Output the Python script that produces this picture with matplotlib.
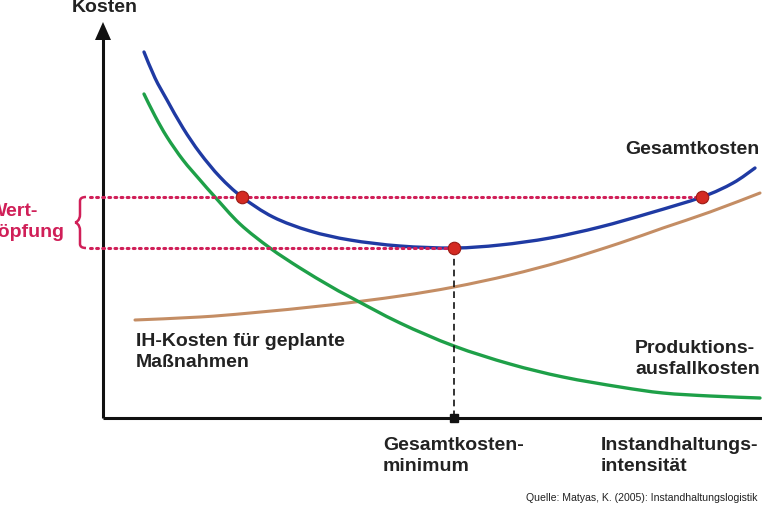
import numpy as np
import matplotlib.pyplot as plt
from matplotlib.path import Path
from matplotlib.patches import PathPatch, Polygon

plt.rcParams['font.family'] = ['Liberation Sans', 'DejaVu Sans']

"""DATA (read off the picture, image coordinates: x right, y down)"""
# Gesamtkosten (blue)
total_x = [144, 155, 167, 183, 200, 220, 242, 273, 310, 350, 400, 454, 500, 550, 600, 650, 702, 733, 755]
total_y = [52, 78, 100, 128, 153, 177, 197, 217, 231, 240, 246, 248, 245, 238, 227, 213, 197, 183, 168]

# Produktionsausfallkosten (green)
loss_x = [144, 155, 167, 183, 200, 215, 240, 270, 300, 330, 350, 400, 454, 510, 563, 620, 663, 710, 760]
loss_y = [94, 116, 137, 160, 180, 197, 224, 248, 268, 286, 297, 323, 346, 364, 377, 387, 393, 396, 398]

# IH-Kosten fuer geplante Massnahmen (brown)
ih_x = [135, 200, 250, 330, 400, 454, 510, 563, 620, 663, 710, 760]
ih_y = [320, 317, 313, 305, 296, 287, 275, 261, 243, 228, 212, 193]

# marked points on the total cost curve
pts_x = [242, 454, 702]
pts_y = [197, 248, 197]


def smooth_path(xs, ys):
    # Catmull-Rom through the read points, as cubic bezier segments
    p = np.column_stack([xs, ys]).astype(float)
    verts = [p[0]]
    codes = [Path.MOVETO]
    for i in range(len(p) - 1):
        p0 = p[i - 1] if i > 0 else p[i]
        p3 = p[i + 2] if i + 2 < len(p) else p[i + 1]
        c1 = p[i] + (p[i + 1] - p0) / 6
        c2 = p[i + 1] - (p3 - p[i]) / 6
        verts += [c1, c2, p[i + 1]]
        codes += [Path.CURVE4] * 3
    return Path(verts, codes)


"""PLOTTING"""
fig = plt.figure(figsize=(7.62, 5.08), dpi=100)
ax = fig.add_axes([0, 0, 1, 1])
ax.set_xlim(0, 762)
ax.set_ylim(508, 0)
ax.axis('off')

ox, oy = 103, 418
txt = '#222222'
red = '#d01f58'

# axes
ax.plot([ox, ox], [oy, 36], color='#111111', lw=2.2, solid_capstyle='butt')
ax.plot([ox, 762], [oy, oy], color='#111111', lw=2.2, solid_capstyle='butt')
ax.add_patch(Polygon([[ox, 22], [ox - 8, 40], [ox + 8, 40]], closed=True,
                     color='#111111', lw=0))

# Wertschoepfung guides
ax.plot([90, pts_x[2]], [pts_y[0], pts_y[0]], color=red, lw=2.2, ls=(0, (0.6, 1.4)),
        dash_capstyle='round')
ax.plot([90, pts_x[1]], [pts_y[1], pts_y[1]], color=red, lw=2.2, ls=(0, (0.6, 1.4)),
        dash_capstyle='round')
ax.plot([pts_x[1], pts_x[1]], [pts_y[1], oy], color='#111111', lw=1.2, ls=(0, (4, 2.5)))
ax.plot([pts_x[1]], [oy], marker='s', ms=6, color='#111111')

# brace
top, bot = pts_y[0], pts_y[1]
mid = (top + bot) / 2
verts = [(86, top), (80, top), (80, top + 4), (80, mid - 8),
         (80, mid - 2), (76, mid), (75, mid),
         (76, mid), (80, mid + 2), (80, mid + 8),
         (80, bot - 4), (80, bot), (86, bot)]
codes = [Path.MOVETO, Path.CURVE3, Path.CURVE3, Path.LINETO,
         Path.CURVE4, Path.CURVE4, Path.CURVE4,
         Path.CURVE4, Path.CURVE4, Path.CURVE4,
         Path.LINETO, Path.CURVE3, Path.CURVE3]
ax.add_patch(PathPatch(Path(verts, codes), fill=False, edgecolor=red, lw=1.8))

# curves
ax.add_patch(PathPatch(smooth_path(ih_x, ih_y), fill=False, edgecolor='#c48d64',
                       lw=2.2, capstyle='round'))
ax.add_patch(PathPatch(smooth_path(loss_x, loss_y), fill=False, edgecolor='#1ea048',
                       lw=2.4, capstyle='round'))
ax.add_patch(PathPatch(smooth_path(total_x, total_y), fill=False, edgecolor='#1f3aa3',
                       lw=2.4, capstyle='round'))
ax.plot(pts_x, pts_y, 'o', ms=9, color='#d42a22', mec='#9a1a14', mew=0.8, zorder=5)

# labels
fs = 14
ls = 1.36
ax.text(105, 8, 'Kosten', fontsize=fs, fontweight='bold', color=txt, ha='center', va='center')
ax.text(625, 150, 'Gesamtkosten', fontsize=fs, fontweight='bold', color=txt, ha='left', va='center')
ax.text(136, 352, 'IH-Kosten für geplante\nMaßnahmen', fontsize=fs, fontweight='bold',
        color=txt, ha='left', va='center', linespacing=ls)
ax.text(635, 359, 'Produktions-\nausfallkosten', fontsize=fs, fontweight='bold',
        color=txt, ha='left', va='center', linespacing=ls)
ax.text(383, 456, 'Gesamtkosten-\nminimum', fontsize=fs, fontweight='bold',
        color=txt, ha='left', va='center', linespacing=ls)
ax.text(601, 456, 'Instandhaltungs-\nintensität', fontsize=fs, fontweight='bold',
        color=txt, ha='left', va='center', linespacing=ls)
ax.text(14, 222, 'Wert-\nschöpfung', fontsize=fs, fontweight='bold',
        color=red, ha='center', va='center', linespacing=ls)
ax.text(758, 498, 'Quelle: Matyas, K. (2005): Instandhaltungslogistik', fontsize=7.6,
        color=txt, ha='right', va='center')

plt.savefig('out.png', dpi=100)
